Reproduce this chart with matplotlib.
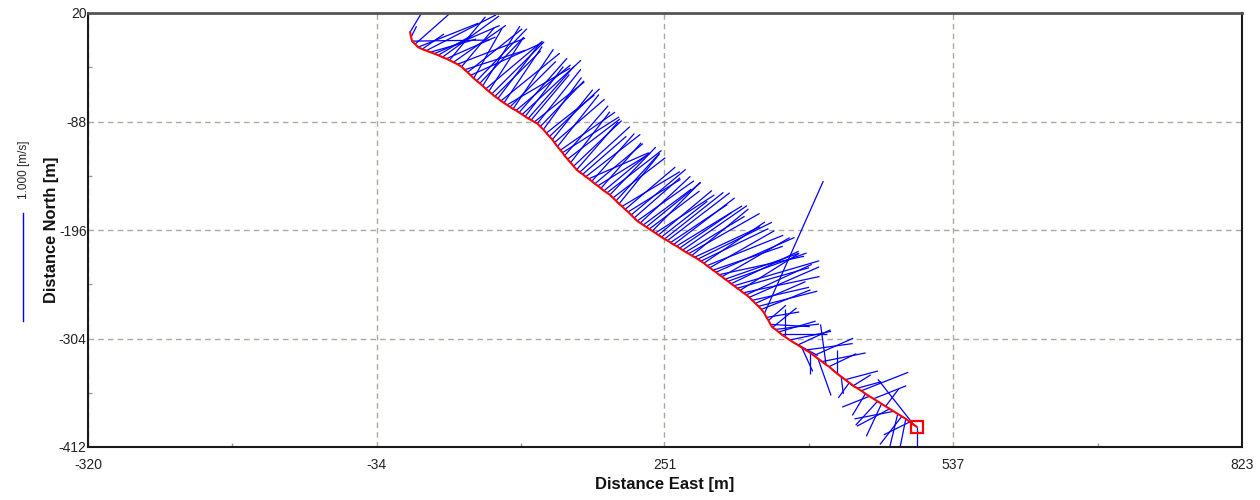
"""
Boat track with depth-averaged velocity sticks (plan view).
"""

import matplotlib
matplotlib.use("Agg")
import matplotlib.pyplot as plt
import numpy as np
from matplotlib.collections import LineCollection
from matplotlib.lines import Line2D

plt.rcParams["font.family"] = ["Liberation Sans", "DejaVu Sans"]
plt.rcParams["axes.unicode_minus"] = False

# ensemble positions along the track [m]
east = [
    -1, 0, 1, 4, 7, 11, 15, 19, 23, 27, 31, 35, 38,
    42, 46, 50, 53, 56, 59,
    62, 65, 68, 71, 74, 77, 80, 83, 86,
    89, 92, 95, 98, 101, 104, 107, 110, 113,
    116, 119, 122, 125,
    128, 131, 134, 137, 140,
    142, 145, 148, 150,
    152, 155, 158, 161, 164,
    167, 170, 173, 176, 179,
    182, 185, 188, 191, 194, 197,
    200, 203, 206, 209, 212, 215, 218, 221,
    224, 227, 230, 233, 236, 239, 242, 245, 248, 251,
    254, 257, 260, 263, 266, 269, 272, 275, 278, 281, 284,
    287, 290, 293, 296, 299, 302, 305, 308, 311,
    314, 317, 320, 323, 326, 329, 332, 335,
    338, 341, 344, 347,
    350, 352, 354, 356, 358,
    361, 364, 367, 370,
    375, 379, 383, 387, 391,
    395, 399, 403, 407, 411, 414,
    418, 422, 426, 430, 434,
    438, 442, 446, 450, 454,
    458, 462, 466, 470, 474, 478, 482,
    486, 490, 494, 498, 501,
]
north = [
    1, -4, -8, -11, -14, -16, -17.5, -19, -20.5, -22, -24, -25.5, -27,
    -29, -31, -33.5, -36.5, -39, -42,
    -45, -47.5, -50, -52.5, -55.5, -58, -60.5, -63, -65,
    -67.5, -69.5, -71.5, -73.5, -75.5, -77, -79, -81, -83,
    -85, -86.5, -88.5, -90,
    -93, -96, -99.5, -103, -106,
    -109, -113, -116.5, -119,
    -122, -125.5, -129, -132.5, -136,
    -138.5, -140.5, -143, -145, -147.5,
    -150, -152, -154.5, -157, -159, -161,
    -164, -167, -170, -172.5, -175.5, -178, -181, -184,
    -187, -189, -191, -193, -195, -197, -199, -201, -203, -205,
    -206.5, -208.5, -210.5, -212, -214, -216, -218, -219.5, -221.5, -223, -225,
    -227, -229, -231.5, -233.5, -236, -238, -240.5, -242.5, -245,
    -247, -249.5, -251.5, -254, -256, -258.5, -260.5, -263,
    -266, -269, -272, -275,
    -279, -283, -286, -290, -293,
    -295, -297.5, -300, -302,
    -305.5, -308, -310.5, -313, -315.5,
    -318, -321, -324, -327, -330, -332,
    -335.5, -339, -342, -345, -348,
    -351, -353.5, -356, -359, -361.5,
    -364, -366.5, -369, -371.5, -374, -376.5, -379,
    -381.5, -384, -387, -390, -392,
]

# depth-averaged velocity [m/s]
vel_east = [
    0.18, 0.05, 0.71, 0.36, 0.55, 0.20, 0.64, 0.42, 0.60, 0.30, 0.52, 0.45, 0.33,
    0.48, 0.62, 0.30, 0.56, 0.50, 0.66,
    0.26, 0.46, 0.40, 0.34, 0.52, 0.32, 0.48, 0.42, 0.38,
    0.54, 0.35, 0.58, 0.42, 0.37, 0.50, 0.44, 0.54, 0.35,
    0.42, 0.35, 0.46, 0.40,
    0.40, 0.35, 0.44, 0.46, 0.37,
    0.46, 0.38, 0.50, 0.52,
    0.40, 0.48, 0.36, 0.44, 0.38,
    0.46, 0.40, 0.50, 0.55, 0.39,
    0.44, 0.48, 0.37, 0.42, 0.50, 0.42,
    0.48, 0.40, 0.37, 0.53, 0.46, 0.48, 0.50, 0.42,
    0.52, 0.46, 0.44, 0.50, 0.46, 0.44, 0.54, 0.49, 0.42, 0.54,
    0.57, 0.52, 0.56, 0.60, 0.48, 0.59, 0.54, 0.65, 0.52, 0.60, 0.68,
    0.62, 0.56, 0.70, 0.59, 0.64, 0.72, 0.78, 0.62, 0.68,
    0.72, 0.62, 0.78, 0.66, 0.54, 0.70, 0.60, 0.64,
    0.52, 0.46, 0.54, 0.45,
    0.54, 0.30, 0.16, 0.36, 0.22,
    0.40, 0.34, 0.42, 0.00,
    0.38, 0.22, 0.30, 0.10, 0.43,
    0.00, 0.36, 0.12, 0.40, -0.05, 0.25,
    0.20, 0.00, 0.02, 0.30, -0.10,
    0.16, 0.22, 0.43, -0.12, -0.25,
    0.30, -0.20, -0.14, 0.12, -0.30, -0.36, -0.10,
    -0.20, -0.08, -0.24, -0.33, 0.00,
]
vel_north = [
    0.30, 0.10, 0.01, 0.32, 0.22, 0.14, 0.33, 0.12, 0.26, 0.18, 0.38, 0.20, 0.40,
    0.34, 0.24, 0.36, 0.18, 0.40, 0.30,
    0.46, 0.48, 0.42, 0.55, 0.44, 0.50, 0.48, 0.42, 0.50,
    0.44, 0.52, 0.34, 0.42, 0.55, 0.42, 0.50, 0.50, 0.46,
    0.48, 0.42, 0.37, 0.50,
    0.42, 0.48, 0.35, 0.44, 0.46,
    0.40, 0.48, 0.35, 0.33,
    0.46, 0.37, 0.47, 0.42, 0.44,
    0.42, 0.35, 0.39, 0.24, 0.44,
    0.37, 0.30, 0.42, 0.35, 0.39, 0.44,
    0.37, 0.44, 0.46, 0.32, 0.39, 0.30, 0.42, 0.37,
    0.37, 0.43, 0.33, 0.41, 0.35, 0.45, 0.35, 0.41, 0.33, 0.43,
    0.44, 0.35, 0.43, 0.37, 0.33, 0.41, 0.33, 0.37, 0.43, 0.28, 0.34,
    0.30, 0.38, 0.28, 0.34, 0.22, 0.32, 0.17, 0.36, 0.24,
    0.26, 0.30, 0.23, 0.19, 0.34, 0.15, 0.28, 0.28,
    0.12, 0.20, 0.14, 0.18,
    1.22, 0.05, 0.14, -0.02, 0.18,
    0.05, 0.10, 0.00, 0.25,
    0.08, -0.12, 0.14, -0.22, 0.06,
    -0.20, 0.16, -0.34, 0.08, 0.37, 0.12,
    -0.16, 0.22, -0.16, 0.08, -0.14,
    0.10, 0.06, 0.17, -0.20, -0.10,
    0.12, -0.22, -0.30, 0.16, -0.16, -0.07, -0.42,
    -0.26, -0.40, -0.12, 0.42, -0.30,
]

x_ticks = [-320, -34, 251, 537, 823]
y_ticks = [20, -88, -196, -304, -412]

VECTOR_SCALE = 108.0  # map metres per 1 m/s
REF_SPEED = 1.0


def main() -> None:
    e = np.asarray(east, dtype=float)
    n = np.asarray(north, dtype=float)
    ve = np.asarray(vel_east, dtype=float)
    vn = np.asarray(vel_north, dtype=float)

    fig = plt.figure(figsize=(12.6, 5), dpi=100)
    ax = fig.add_axes([88 / 1260, 53 / 500, 1154 / 1260, 434 / 500])

    segs = np.stack([np.column_stack([e, n]),
                     np.column_stack([e + ve * VECTOR_SCALE, n + vn * VECTOR_SCALE])], axis=1)
    ax.add_collection(LineCollection(segs, colors="#0000ff", linewidths=0.9, zorder=2))
    ax.plot(e, n, color="#ff0000", lw=1.5, zorder=3, solid_capstyle="round")
    ax.plot(e[-1], n[-1], marker="s", ms=8, mfc="none", mec="#ff0000", mew=1.6, zorder=4)

    ax.set_xlim(x_ticks[0], x_ticks[-1])
    ax.set_ylim(y_ticks[-1], y_ticks[0])
    ax.set_xticks(x_ticks)
    ax.set_yticks(y_ticks)
    ax.set_xticks([(a + b) / 2 for a, b in zip(x_ticks[:-1], x_ticks[1:])], minor=True)
    ax.set_yticks([(a + b) / 2 for a, b in zip(y_ticks[:-1], y_ticks[1:])], minor=True)
    ax.grid(True, which="major", ls=(0, (4, 3)), color="#aaa9a0", lw=1)
    ax.tick_params(which="major", length=0, labelsize=10, labelcolor="#222222")
    ax.tick_params(axis="x", pad=8)
    ax.tick_params(axis="y", pad=1)
    ax.tick_params(which="minor", direction="in", length=3, width=1, color="#999999")

    for side in ("left", "bottom", "right"):
        ax.spines[side].set_color("#1a1a1a")
        ax.spines[side].set_linewidth(1.5)
    ax.spines["top"].set_color("#555555")
    ax.spines["top"].set_linewidth(2)

    ax.set_xlabel("Distance East [m]", fontsize=12, fontweight="bold", color="#111111")
    ax.set_ylabel("Distance North [m]", fontsize=11.8, fontweight="bold", color="#111111")
    ax.xaxis.set_label_coords(0.5, -0.068)
    ax.yaxis.set_label_coords(-0.025, 0.5)

    # reference stick (1 m/s) drawn to the same scale as the data
    y0 = ax.transData.transform((0, 0))[1]
    y1 = ax.transData.transform((0, REF_SPEED * VECTOR_SCALE))[1]
    bar_h = (y1 - y0) / fig.bbox.height
    bar_top = 1 - 213 / 500
    fig.add_artist(Line2D([23 / 1260, 23 / 1260], [bar_top, bar_top - bar_h],
                          color="#0000ff", lw=1.0))
    fig.text(24 / 1260, 1 - 170 / 500, f"{REF_SPEED:.3f} [m/s]", rotation=90,
             fontsize=8.5, ha="center", va="center", color="#222222")

    fig.savefig("out.png", dpi=100)
    plt.close(fig)


if __name__ == "__main__":
    main()
